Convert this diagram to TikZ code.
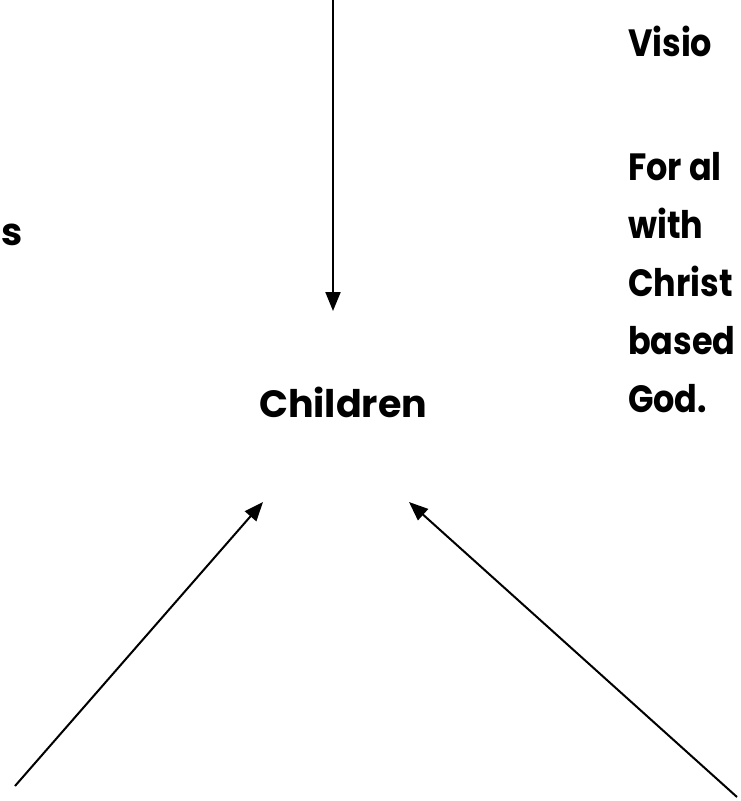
\documentclass[tikz,border=0pt]{standalone}
\usepackage{fontspec}
\setmainfont{Poppins}
\usetikzlibrary{arrows.meta}
\usetikzlibrary{positioning}
\tikzstyle{big_text} = [
    font=\fontsize{38}{46}\selectfont\bfseries, 
    inner sep=0pt, 
    anchor=base west
]
\tikzstyle{vision_text} = [
    font=\fontsize{38}{58}\selectfont\bfseries, 
    inner sep=0pt, 
    align=left,
    anchor=north west,
    xscale=0.88, 
    transform shape
]
\tikzstyle{link} = [
    -{Triangle[length=19pt, width=15pt]}, 
    line width=2pt
]

\begin{document}
\begin{tikzpicture}[x=1pt, y=-1pt]
\useasboundingbox (0,0) rectangle (740,801);
\node [big_text] (children) at (259,417) {Children};
\node [big_text] (left) at (1,245) {s};
\node [vision_text, anchor=base west] (vision) at (628,56) {Visio};
\node [vision_text, text depth=0pt] (mission) at (628,152) {For al\\with\\Christ\\based\\God.};
\coordinate (top) at (333,0);
\coordinate (topend) at (333,311);
\coordinate (bl) at (15,786);
\coordinate (bltip) at (263,502);
\coordinate (br) at (737,797);
\coordinate (brtip) at (409,502);
\draw [link] (top) -- (topend);
\draw [link] (bl) -- (bltip);
\draw [link] (br) -- (brtip);
\end{tikzpicture}
\end{document}
